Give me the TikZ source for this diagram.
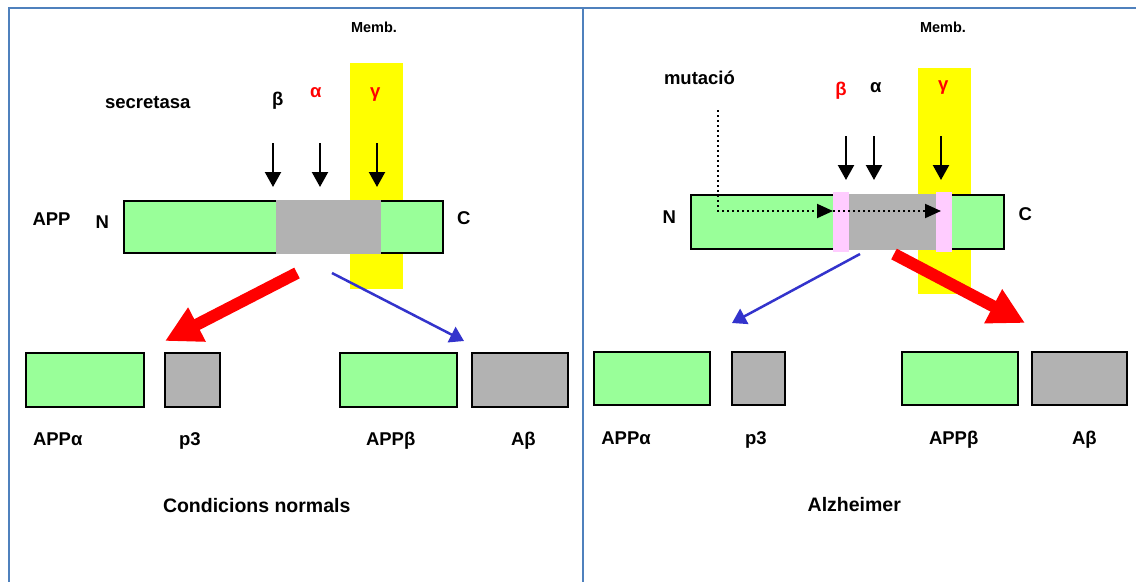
\documentclass[tikz,border=0pt]{standalone}
\usepackage{fontspec}
\setmainfont{Liberation Sans}
\usetikzlibrary{arrows.meta}
\definecolor{frameblue}{RGB}{79,129,189}
\definecolor{appgreen}{RGB}{153,255,153}
\definecolor{appgray}{RGB}{178,178,178}
\definecolor{membyellow}{RGB}{255,255,0}
\definecolor{cutpink}{RGB}{255,204,255}
\definecolor{flowblue}{RGB}{51,51,204}
\begin{document}
\begin{tikzpicture}[x=1pt,y=-1pt,
  lbl/.style={font=\fontsize{18.5}{20}\selectfont\bfseries, inner sep=0, outer sep=0, anchor=base west},
  ttl/.style={font=\fontsize{19.5}{21}\selectfont\bfseries, inner sep=0, outer sep=0, anchor=base west},
  memlbl/.style={font=\fontsize{14.5}{16}\selectfont\bfseries, inner sep=0, outer sep=0, anchor=base west},
  greenbox/.style={draw=black, line width=2pt, fill=appgreen, inner sep=0, outer sep=0},
  graybox/.style={draw=black, line width=2pt, fill=appgray, inner sep=0, outer sep=0},
  graypatch/.style={draw=none, fill=appgray, inner sep=0, outer sep=0},
  pinkpatch/.style={draw=none, fill=cutpink, inner sep=0, outer sep=0},
  membrane/.style={draw=none, fill=membyellow, inner sep=0, outer sep=0},
  cutarrow/.style={line width=2.2pt, -{Triangle[length=15pt,width=16pt]}},
  bigred/.style={red, line width=12pt, -{Triangle[length=36pt,width=36pt]}},
  thinblue/.style={flowblue, line width=2.5pt, -{Triangle[length=14pt,width=17pt]}},
  mutpath/.style={line width=2pt, dash pattern=on 2pt off 3pt, -{Triangle[length=16pt,width=14pt]}},
  framestyle/.style={frameblue, line width=2pt}
]
\useasboundingbox (0,0) rectangle (1136,582);
\fill[white] (0,0) rectangle (1136,582);

% frame
\draw[framestyle] (8,7.5) -- (1136,7.5);
\draw[framestyle] (9,7.5) -- (9,582);
\draw[framestyle] (583.3,7.5) -- (583.3,582);

%%%%%%%%%% LEFT PANEL %%%%%%%%%%
\node[membrane, minimum width=53pt, minimum height=226pt] (membL) at (376.5,176) {};
\node[greenbox, minimum width=319pt, minimum height=52pt] (barL) at (283.5,227) {};
\node[graypatch, minimum width=105pt, minimum height=54pt] (grayL) at (328.5,227) {};

\node[memlbl] (membtL) at (351,32) {Memb.};
\node[lbl] (secr) at (105,108) {secretasa};
\node[lbl] (betaL) at (272,105) {β};
\node[lbl, text=red] (alphaL) at (310,97) {α};
\node[lbl, text=red] (gammaL) at (370,97) {γ};
\node[lbl] (appL) at (32.5,225.5) {APP};
\node[lbl] (nL) at (95.5,228.3) {N};
\node[lbl] (cL) at (457,224.5) {C};

\coordinate (bLs) at (273,143); \coordinate (bLe) at (273,187);
\coordinate (aLs) at (320,143); \coordinate (aLe) at (320,187);
\coordinate (gLs) at (377,143); \coordinate (gLe) at (377,187);
\draw[cutarrow] (bLs) -- (bLe);
\draw[cutarrow] (aLs) -- (aLe);
\draw[cutarrow] (gLs) -- (gLe);

\node[greenbox, minimum width=118pt, minimum height=54pt] (appaL) at (85,380) {};
\node[graybox, minimum width=55pt, minimum height=54pt] (p3L) at (192.5,380) {};
\node[greenbox, minimum width=117pt, minimum height=54pt] (appbL) at (398,380) {};
\node[graybox, minimum width=96.4pt, minimum height=54pt] (abL) at (519.8,380) {};

\coordinate (redLs) at (297,273); \coordinate (redLe) at (165,341);
\coordinate (bluLs) at (332,273); \coordinate (bluLe) at (464,341);
\draw[bigred] (redLs) -- (redLe);
\draw[thinblue] (bluLs) -- (bluLe);

\node[lbl] (tappaL) at (33,445) {APPα};
\node[lbl] (tp3L) at (179,445.5) {p3};
\node[lbl] (tappbL) at (366,445) {APPβ};
\node[lbl] (tabL) at (511,445) {Aβ};
\node[ttl] (titleL) at (163,512) {Condicions normals};

%%%%%%%%%% RIGHT PANEL %%%%%%%%%%
\node[membrane, minimum width=53pt, minimum height=226pt] (membR) at (944.5,181) {};
\node[greenbox, minimum width=313pt, minimum height=54pt] (barR) at (847.5,222) {};
\node[graypatch, minimum width=87pt, minimum height=56pt] (grayR) at (892.5,222) {};
\node[pinkpatch, minimum width=16pt, minimum height=60pt] (pinkR1) at (841,222) {};
\node[pinkpatch, minimum width=16pt, minimum height=60pt] (pinkR2) at (944,222) {};

\node[memlbl] (membtR) at (920,32) {Memb.};
\node[lbl] (mut) at (664,84.5) {mutació};
\node[lbl, text=red] (betaR) at (835.3,95) {β};
\node[lbl] (alphaR) at (870,92) {α};
\node[lbl, text=red] (gammaR) at (938,90) {γ};
\node[lbl] (nR) at (662.6,223.3) {N};
\node[lbl] (cR) at (1018.6,220) {C};

\coordinate (bRs) at (846,136); \coordinate (bRe) at (846,180);
\coordinate (aRs) at (874,136); \coordinate (aRe) at (874,180);
\coordinate (gRs) at (941,136); \coordinate (gRe) at (941,180);
\draw[cutarrow] (bRs) -- (bRe);
\draw[cutarrow] (aRs) -- (aRe);
\draw[cutarrow] (gRs) -- (gRe);

\coordinate (mutS) at (718,110);
\coordinate (mutT1) at (833,211);
\coordinate (mutT2) at (941,211);
\draw[mutpath] (mutS) |- (mutT1);
\draw[mutpath] (mutT1) -- (mutT2);

\node[greenbox, minimum width=115.5pt, minimum height=53pt] (appaR) at (652.2,378.5) {};
\node[graybox, minimum width=53pt, minimum height=53pt] (p3R) at (758.5,378.5) {};
\node[greenbox, minimum width=115.6pt, minimum height=53pt] (appbR) at (959.8,378.5) {};
\node[graybox, minimum width=95pt, minimum height=53pt] (abR) at (1079.5,378.5) {};

\coordinate (bluRs) at (860,254); \coordinate (bluRe) at (732,323);
\coordinate (redRs) at (894,254); \coordinate (redRe) at (1025,323);
\draw[thinblue] (bluRs) -- (bluRe);
\draw[bigred] (redRs) -- (redRe);

\node[lbl] (tappaR) at (601.3,444) {APPα};
\node[lbl] (tp3R) at (745,444.5) {p3};
\node[lbl] (tappbR) at (929,444) {APPβ};
\node[lbl] (tabR) at (1072,444) {Aβ};
\node[ttl] (titleR) at (807.7,511) {Alzheimer};
\end{tikzpicture}
\end{document}
